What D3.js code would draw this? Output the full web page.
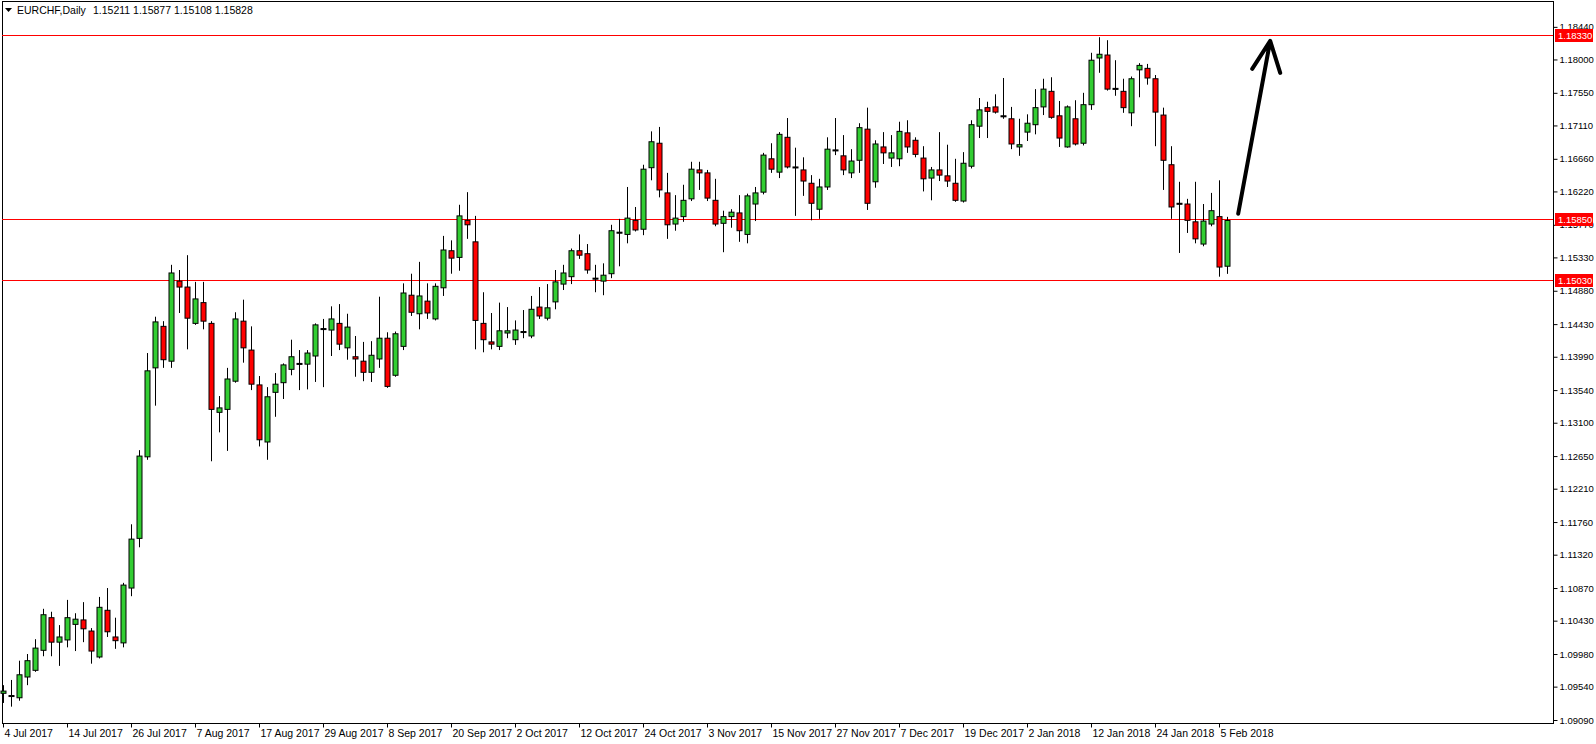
<!DOCTYPE html>
<html>
<head>
<meta charset="utf-8">
<script src="https://cdn.jsdelivr.net/npm/d3@7"></script>
<style>
  body { margin: 0; background: #fff; }
  svg text { font-family: "Liberation Sans", Arial, sans-serif; }
</style>
</head>
<body>
<svg id="chart" width="1596" height="744"></svg>
<script>
// daily EURCHF candles, [open, high, low, close]
const candles = [
  [1.0945,1.0956,1.0932,1.0948],[1.0941,1.0963,1.0927,1.0942],[1.0939,1.0989,1.0935,1.0970],[1.0967,1.0998,1.0956,1.0989],
  [1.0976,1.1018,1.0974,1.1006],[1.1003,1.1059,1.0995,1.1051],[1.1047,1.1055,1.0995,1.1014],[1.1014,1.1037,1.0982,1.1021],
  [1.1017,1.1071,1.1007,1.1047],[1.1038,1.1053,1.1002,1.1045],[1.1044,1.1068,1.1014,1.1032],[1.1029,1.1033,1.0985,1.1002],
  [1.0994,1.1075,1.0992,1.1061],[1.1057,1.1087,1.1021,1.1028],[1.1021,1.1047,1.1005,1.1016],[1.1013,1.1094,1.1007,1.1091],
  [1.1087,1.1173,1.1076,1.1153],[1.1154,1.1273,1.1142,1.1265],[1.1264,1.1404,1.1260,1.1380],[1.1384,1.1453,1.1333,1.1446],
  [1.1440,1.1447,1.1384,1.1395],[1.1393,1.1523,1.1384,1.1512],[1.1501,1.1516,1.1458,1.1493],[1.1493,1.1536,1.1409,1.1451],
  [1.1444,1.1500,1.1442,1.1477],[1.1472,1.1500,1.1436,1.1447],[1.1444,1.1447,1.1258,1.1328],[1.1324,1.1346,1.1297,1.1330],
  [1.1328,1.1384,1.1272,1.1369],[1.1366,1.1459,1.1364,1.1450],[1.1447,1.1476,1.1391,1.1411],[1.1408,1.1440,1.1354,1.1362],
  [1.1361,1.1373,1.1278,1.1287],[1.1284,1.1358,1.1260,1.1345],[1.1351,1.1377,1.1318,1.1362],[1.1364,1.1390,1.1342,1.1388],
  [1.1382,1.1422,1.1374,1.1399],[1.1389,1.1408,1.1354,1.1390],[1.1389,1.1408,1.1355,1.1404],[1.1400,1.1444,1.1365,1.1442],
  [1.1436,1.1450,1.1358,1.1437],[1.1435,1.1467,1.1400,1.1450],[1.1444,1.1470,1.1408,1.1416],[1.1411,1.1457,1.1395,1.1439],
  [1.1399,1.1427,1.1372,1.1396],[1.1393,1.1419,1.1366,1.1378],[1.1378,1.1420,1.1365,1.1401],[1.1396,1.1480,1.1384,1.1424],
  [1.1424,1.1432,1.1357,1.1359],[1.1374,1.1433,1.1372,1.1430],[1.1413,1.1498,1.1408,1.1485],[1.1482,1.1511,1.1454,1.1459],
  [1.1457,1.1527,1.1436,1.1481],[1.1474,1.1498,1.1450,1.1458],[1.1450,1.1498,1.1448,1.1494],[1.1492,1.1562,1.1481,1.1543],
  [1.1542,1.1556,1.1511,1.1532],[1.1533,1.1604,1.1515,1.1589],[1.1583,1.1621,1.1558,1.1577],[1.1554,1.1589,1.1409,1.1448],
  [1.1444,1.1486,1.1405,1.1422],[1.1419,1.1458,1.1409,1.1416],[1.1413,1.1472,1.1408,1.1434],[1.1431,1.1466,1.1424,1.1434],
  [1.1422,1.1448,1.1415,1.1435],[1.1432,1.1462,1.1424,1.1433],[1.1427,1.1481,1.1424,1.1463],[1.1466,1.1493,1.1450,1.1454],
  [1.1451,1.1497,1.1448,1.1465],[1.1473,1.1516,1.1463,1.1500],[1.1497,1.1523,1.1489,1.1512],[1.1507,1.1545,1.1497,1.1542],
  [1.1542,1.1564,1.1531,1.1536],[1.1538,1.1551,1.1511,1.1516],[1.1504,1.1523,1.1486,1.1505],[1.1501,1.1525,1.1482,1.1509],
  [1.1511,1.1577,1.1505,1.1569],[1.1566,1.1585,1.1521,1.1567],[1.1564,1.1628,1.1552,1.1586],[1.1583,1.1601,1.1568,1.1570],
  [1.1571,1.1658,1.1563,1.1652],[1.1654,1.1703,1.1637,1.1689],[1.1687,1.1709,1.1614,1.1624],[1.1620,1.1647,1.1558,1.1577],
  [1.1578,1.1617,1.1569,1.1586],[1.1588,1.1631,1.1581,1.1610],[1.1612,1.1662,1.1609,1.1652],[1.1651,1.1662,1.1624,1.1647],
  [1.1647,1.1651,1.1609,1.1613],[1.1610,1.1639,1.1575,1.1578],[1.1579,1.1596,1.1540,1.1588],[1.1588,1.1598,1.1573,1.1594],
  [1.1593,1.1617,1.1554,1.1569],[1.1564,1.1619,1.1552,1.1616],[1.1605,1.1628,1.1582,1.1620],[1.1621,1.1674,1.1618,1.1671],
  [1.1666,1.1687,1.1647,1.1652],[1.1648,1.1702,1.1640,1.1699],[1.1695,1.1721,1.1653,1.1655],[1.1655,1.1681,1.1589,1.1654],
  [1.1651,1.1668,1.1616,1.1636],[1.1633,1.1644,1.1583,1.1606],[1.1598,1.1639,1.1585,1.1628],[1.1628,1.1695,1.1624,1.1679],
  [1.1678,1.1721,1.1671,1.1677],[1.1670,1.1698,1.1644,1.1651],[1.1647,1.1679,1.1640,1.1663],[1.1664,1.1714,1.1647,1.1708],
  [1.1706,1.1735,1.1597,1.1606],[1.1635,1.1691,1.1627,1.1686],[1.1682,1.1702,1.1659,1.1674],[1.1667,1.1698,1.1655,1.1674],
  [1.1666,1.1716,1.1656,1.1703],[1.1701,1.1718,1.1674,1.1682],[1.1691,1.1695,1.1668,1.1672],[1.1667,1.1683,1.1622,1.1639],
  [1.1640,1.1655,1.1610,1.1651],[1.1651,1.1702,1.1636,1.1644],[1.1643,1.1685,1.1628,1.1636],[1.1633,1.1666,1.1608,1.1610],
  [1.1609,1.1675,1.1607,1.1660],[1.1656,1.1718,1.1653,1.1712],[1.1710,1.1748,1.1694,1.1732],[1.1735,1.1743,1.1694,1.1730],
  [1.1736,1.1753,1.1727,1.1729],[1.1724,1.1775,1.1720,1.1723],[1.1720,1.1736,1.1679,1.1686],[1.1682,1.1720,1.1670,1.1685],
  [1.1702,1.1726,1.1690,1.1714],[1.1712,1.1760,1.1699,1.1735],[1.1736,1.1774,1.1725,1.1760],[1.1757,1.1776,1.1720,1.1722],
  [1.1724,1.1744,1.1682,1.1694],[1.1682,1.1738,1.1681,1.1736],[1.1720,1.1745,1.1684,1.1686],[1.1687,1.1755,1.1684,1.1739],
  [1.1739,1.1809,1.1732,1.1799],[1.1802,1.1830,1.1782,1.1807],[1.1806,1.1826,1.1758,1.1760],[1.1760,1.1799,1.1751,1.1761],
  [1.1757,1.1774,1.1728,1.1735],[1.1728,1.1777,1.1710,1.1774],[1.1786,1.1795,1.1749,1.1792],[1.1788,1.1794,1.1766,1.1775],
  [1.1774,1.1779,1.1683,1.1729],[1.1725,1.1735,1.1624,1.1664],[1.1658,1.1683,1.1585,1.1601],[1.1606,1.1635,1.1539,1.1605],
  [1.1605,1.1612,1.1566,1.1583],[1.1581,1.1635,1.1552,1.1558],[1.1551,1.1605,1.1548,1.1582],[1.1578,1.1620,1.1575,1.1596],
  [1.1588,1.1637,1.1507,1.1520],[1.15211,1.15877,1.15108,1.15828]
];

// a date label every 8 bars
const dateLabels = ["4 Jul 2017","14 Jul 2017","26 Jul 2017","7 Aug 2017","17 Aug 2017","29 Aug 2017","8 Sep 2017",
  "20 Sep 2017","2 Oct 2017","12 Oct 2017","24 Oct 2017","3 Nov 2017","15 Nov 2017","27 Nov 2017","7 Dec 2017",
  "19 Dec 2017","2 Jan 2018","12 Jan 2018","24 Jan 2018","5 Feb 2018"];
const priceTicks = [1.18440,1.18000,1.17550,1.17110,1.16660,1.16220,1.15770,1.15330,1.14880,1.14430,1.13990,
  1.13540,1.13100,1.12650,1.12210,1.11760,1.11320,1.10870,1.10430,1.09980,1.09540,1.09090];
const levels = [1.18330, 1.15850, 1.15030];
const header = ["EURCHF,Daily", "1.15211 1.15877 1.15108 1.15828"];
const arrowPts = [[154.4, 1.1592], [158.4, 1.1825]];

const svg = d3.select("#chart");
const pLeft = 2, pRight = 1553, pTop = 1, pBottom = 723;

const x = d3.scaleLinear().domain([0, 153]).range([3, 1227]);
const y = d3.scaleLinear().domain([1.0909, 1.1833]).range([720, 35]);

// frame
svg.append("rect")
  .attr("x", pLeft + 0.5).attr("y", pTop + 0.5)
  .attr("width", pRight - pLeft).attr("height", pBottom - pTop)
  .attr("fill", "none").attr("stroke", "#000");

// right price axis
const yAxis = d3.axisRight(y).tickValues(priceTicks).tickSize(4).tickFormat(d3.format(".5f"));
svg.append("g").attr("transform", `translate(${pRight + 0.5},0)`).call(yAxis)
  .call(g => g.select(".domain").remove())
  .call(g => g.selectAll("text").attr("x", 6).attr("font-size", 9.5).attr("fill", "#000")
    .attr("font-family", "Liberation Sans, Arial, sans-serif"));

// bottom date axis
const xAxis = d3.axisBottom(x).tickValues(dateLabels.map((d, i) => i * 8))
  .tickFormat((d, i) => dateLabels[i]).tickSize(4);
svg.append("g").attr("transform", `translate(0,${pBottom + 0.5})`).call(xAxis)
  .call(g => g.select(".domain").remove())
  .call(g => g.selectAll("text").attr("text-anchor", "start").attr("x", 1).attr("y", 6)
    .attr("font-size", 10.5).attr("fill", "#000").attr("font-family", "Liberation Sans, Arial, sans-serif"));

// horizontal levels
svg.selectAll(".level").data(levels).join("line")
  .attr("x1", pLeft).attr("x2", pRight)
  .attr("y1", d => Math.round(y(d)) + 0.5).attr("y2", d => Math.round(y(d)) + 0.5)
  .attr("stroke", "#ff0000").attr("stroke-width", 1);

const lv = svg.selectAll(".lvlab").data(levels).join("g")
  .attr("transform", d => `translate(${pRight + 2},${Math.round(y(d))})`);
lv.append("rect").attr("x", 0).attr("y", -6).attr("width", 38).attr("height", 13).attr("fill", "#ff0000");
lv.append("text").attr("x", 3).attr("y", 4).attr("font-size", 9.5).attr("fill", "#fff")
  .text(d => d3.format(".5f")(d));

// candles
const cg = svg.append("g");
const bars = cg.selectAll("g").data(candles).join("g");
bars.append("line")
  .attr("x1", (d, i) => Math.round(x(i)) + 0.5).attr("x2", (d, i) => Math.round(x(i)) + 0.5)
  .attr("y1", d => y(d[1])).attr("y2", d => y(d[2]))
  .attr("stroke", "#000");
bars.append("rect")
  .attr("x", (d, i) => Math.round(x(i)) - 2)
  .attr("y", d => y(Math.max(d[0], d[3])))
  .attr("width", 5)
  .attr("height", d => Math.max(1, Math.abs(y(d[0]) - y(d[3]))))
  .attr("fill", d => Math.abs(y(d[0]) - y(d[3])) < 1.5 ? "#000" : (d[3] >= d[0] ? "#32cd32" : "#ff0000"))
  .attr("stroke", "#000").attr("stroke-width", 1);

// header
const hd = svg.append("g").attr("transform", "translate(5,14)");
hd.append("path").attr("d", "M0,-6 L7,-6 L3.5,-2 Z").attr("fill", "#000");
hd.append("text").attr("x", 12).attr("y", 0).attr("font-size", 10.5).attr("fill", "#000")
  .text(header[0]);
hd.append("text").attr("x", 88).attr("y", 0).attr("font-size", 10.5).attr("fill", "#000")
  .text(header[1]);

// hand-drawn arrow
const [a, b] = arrowPts.map(p => [x(p[0]), y(p[1])]);
svg.append("path")
  .attr("d", `M${a[0]},${a[1]} L${b[0]},${b[1]} M${b[0] - 18},${b[1] + 28} L${b[0]},${b[1]} L${b[0] + 10},${b[1] + 32}`)
  .attr("fill", "none").attr("stroke", "#000").attr("stroke-width", 4)
  .attr("stroke-linecap", "round").attr("stroke-linejoin", "round");
</script>
</body>
</html>
